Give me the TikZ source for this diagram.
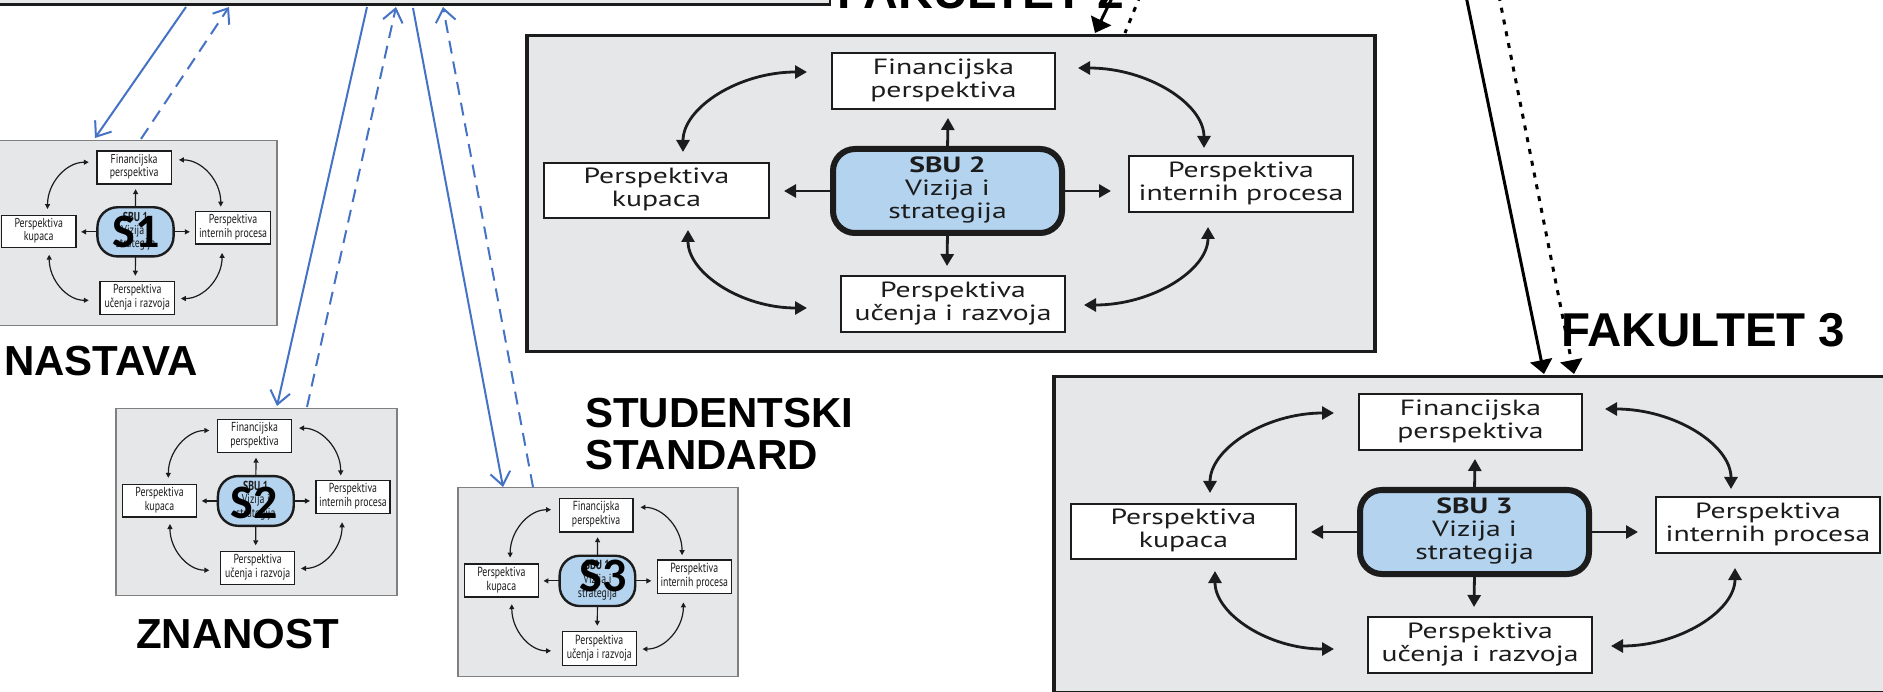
\documentclass[tikz,border=0pt]{standalone}
\usepackage{fontspec}
\usepackage{graphicx}
\setmainfont{Liberation Sans}
\newfontfamily\cardfont{PT Sans}
\newfontfamily\tagfont{Carlito}
\usetikzlibrary{arrows.meta}

\definecolor{panel}{HTML}{E6E7E8}
\definecolor{sbublue}{HTML}{B3D3EF}
\definecolor{linkblue}{HTML}{4472C4}
\definecolor{ink}{HTML}{1C1C1C}

% two-line (or three-line) centred label, widened like the scorecard artwork
\newcommand\cardtext[1]{\scalebox{1.35}[1]{\begin{tabular}{@{}c@{}}#1\end{tabular}}}

\tikzset{
  cardtxt/.style={text=ink, inner sep=0pt, outer sep=0pt, font=\cardfont\fontsize{22}{23}\selectfont},
  bigframe/.style={draw=ink, line width=3.5pt, fill=panel, inner sep=0pt},
  bigbox/.style={cardtxt, draw=ink, line width=2.6pt, fill=white},
  bigsbu/.style={cardtxt, draw=ink, line width=6pt, fill=sbublue, rounded corners=22pt},
  bigarrow/.style={draw=ink, line width=2.8pt, >={Triangle[length=12pt,width=13pt]}},
  miniframe/.style={draw=black!50, line width=1.6pt, fill=panel, inner sep=0pt},
  minibox/.style={cardtxt, draw=ink, line width=1.3pt, fill=white},
  minisbu/.style={cardtxt, draw=ink, line width=2.4pt, fill=sbublue, rounded corners=20pt},
  miniarrow/.style={draw=ink, line width=1.2pt, >={Triangle[length=5pt,width=5pt]}},
  heading/.style={inner sep=0pt, anchor=base west, font=\bfseries\fontsize{#1}{#1}\selectfont},
  tag/.style={inner sep=0pt, font=\tagfont\bfseries\fontsize{48}{48}\selectfont},
  link/.style={draw=linkblue, line width=2pt, -{Straight Barb[length=13pt,width=20pt]}},
  linkdash/.style={link, dash pattern=on 13pt off 8pt},
  feed/.style={draw=black, line width=3pt, -{Triangle[length=14pt,width=22pt]}},
  feeddot/.style={feed, dash pattern=on 5pt off 7pt},
  feeddotplain/.style={draw=black, line width=3pt, dash pattern=on 5pt off 7pt},
}

% balanced scorecard panel
% #1 name, #2 top-left corner, #3 x scale, #4 y scale, #5 unit label, #6 style family (big/mini)
\newcommand\bsccard[6]{%
  \begin{scope}[shift={#2}, xscale=#3, yscale=#4, transform shape]
    \node[#6frame, anchor=north west, minimum width=848pt, minimum height=316pt] (#1) at (0,0) {};
    \node[#6box, minimum width=223pt, minimum height=56pt] (#1-fin) at (418.5,47) {\cardtext{Financijska\\perspektiva}};
    \node[#6box, minimum width=225pt, minimum height=55pt] (#1-kup) at (131.5,156.5) {\cardtext{Perspektiva\\kupaca}};
    \node[#6box, minimum width=224pt, minimum height=56pt] (#1-int) at (716,150) {\cardtext{Perspektiva\\internih procesa}};
    \node[#6box, minimum width=224pt, minimum height=56pt] (#1-uce) at (428,270) {\cardtext{Perspektiva\\učenja i razvoja}};
    \node[#6sbu, minimum width=229pt, minimum height=84pt] (#1-sbu) at (422.5,157) {\cardtext{\textbf{#5}\\Vizija i\\strategija}};
    % tips of the four spokes
    \coordinate (#1-up) at (423,84);
    \coordinate (#1-left) at (259,157);
    \coordinate (#1-right) at (586,157);
    \coordinate (#1-down) at (422,232);
    \draw[#6arrow, ->] (#1-sbu.north) -- (#1-up);
    \draw[#6arrow, ->] (#1-sbu.west) -- (#1-left);
    \draw[#6arrow, ->] (#1-sbu.east) -- (#1-right);
    \draw[#6arrow, ->] (#1-sbu.south) -- (#1-down);
    % ends of the four arcs
    \coordinate (#1-c1a) at (282,38);  \coordinate (#1-c1b) at (158,118);
    \coordinate (#1-c2a) at (553,34);  \coordinate (#1-c2b) at (679,114);
    \coordinate (#1-c3a) at (163,196); \coordinate (#1-c3b) at (282,274);
    \coordinate (#1-c4a) at (683,193); \coordinate (#1-c4b) at (559,271);
    \draw[#6arrow, <->] (#1-c1a) .. controls (213.5,38) and (158,73.8) .. (#1-c1b);
    \draw[#6arrow, <->] (#1-c2a) .. controls (622.6,34) and (679,69.8) .. (#1-c2b);
    \draw[#6arrow, <->] (#1-c3a) .. controls (163,239) and (216.3,274) .. (#1-c3b);
    \draw[#6arrow, <->] (#1-c4a) .. controls (683,236) and (627.5,271) .. (#1-c4b);
  \end{scope}}

\begin{document}
\begin{tikzpicture}[x=1pt, y=-1pt]
  \useasboundingbox (0,0) rectangle (1883,692);
  \clip (0,0) rectangle (1883,692);

  % university-level panel above
  \node[draw=ink, line width=2.5pt, fill=panel, anchor=south east,
        minimum width=900pt, minimum height=60pt, inner sep=0pt] (univ) at (831,6) {};

  % faculty panels
  \bsccard{fak2}{(525,34)}{1}{1}{SBU 2}{big}
  \bsccard{fak3}{(1052,375)}{1}{1}{SBU 3}{big}

  % small panels of the three activities
  \bsccard{s1}{(-5,140)}{0.3325}{0.585}{SBU 1}{mini}
  \bsccard{s2}{(116,408)}{0.331}{0.592}{SBU 1}{mini}
  \bsccard{s3}{(458,487)}{0.330}{0.598}{SBU 1}{mini}

  \node[tag] (t1) at (136.5,231.5) {S1};
  \node[tag] (t2) at (254.5,503) {S2};
  \node[tag] (t3) at (603,576) {S3};

  % headings
  \node[heading=48] (h2) at (837,8.5) {FAKULTET 2};
  \node[heading=47.5] (h3) at (1561,347) {FAKULTET 3};
  \node[heading=42] (hn) at (4,376) {NASTAVA};
  \node[heading=42] (hz) at (136,648) {ZNANOST};
  \node[heading=42, align=left, font=\bfseries\fontsize{42}{43}\selectfont] (hs) at (585,470) {STUDENTSKI\\STANDARD};

  % links between the university panel and the activity panels
  \coordinate (u1a) at (186,7);  \coordinate (s1a) at (95,138);
  \coordinate (s1b) at (141,139); \coordinate (u1b) at (229,7);
  \coordinate (u2a) at (367,7);  \coordinate (s2a) at (277,406);
  \coordinate (s2b) at (307,407); \coordinate (u2b) at (396,7);
  \coordinate (u3a) at (413,8);  \coordinate (s3a) at (503,487);
  \coordinate (s3b) at (533,487); \coordinate (u3b) at (443,7);
  \draw[link] (u1a) -- (s1a);
  \draw[linkdash] (s1b) -- (u1b);
  \draw[link] (u2a) -- (s2a);
  \draw[linkdash] (s2b) -- (u2b);
  \draw[link] (u3a) -- (s3a);
  \draw[linkdash] (s3b) -- (u3b);

  % links coming down into the faculty panels
  \coordinate (f2a) at (1113,-4); \coordinate (f2ae) at (1095,33);
  \coordinate (f2b) at (1140,-4); \coordinate (f2be) at (1125,33);
  \coordinate (f3a) at (1466,-4); \coordinate (f3ae) at (1544,374);
  \coordinate (f3b) at (1499,-4); \coordinate (f3be) at (1574,374);
  \draw[feed] (f2a) -- (f2ae);
  \draw[feeddotplain] (f2b) -- (f2be);
  \draw[feed] (f3a) -- (f3ae);
  \draw[feeddot] (f3b) -- (f3be);
\end{tikzpicture}
\end{document}
